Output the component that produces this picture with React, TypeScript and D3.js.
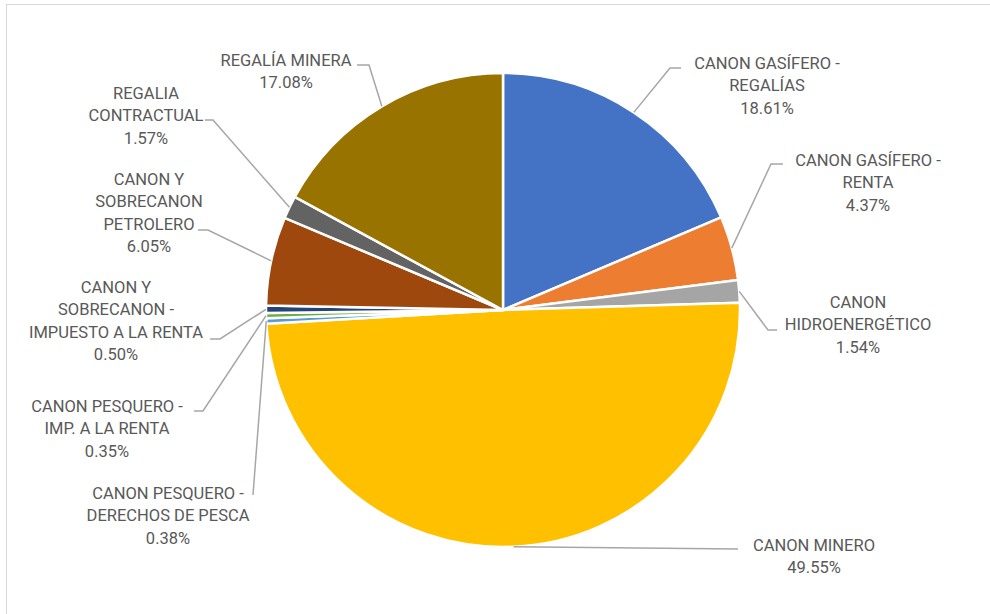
import React from "react";
import * as d3 from "d3";

const categories: string[][] = [
  ["CANON GASÍFERO -", "REGALÍAS"],
  ["CANON GASÍFERO -", "RENTA"],
  ["CANON", "HIDROENERGÉTICO"],
  ["CANON MINERO"],
  ["CANON PESQUERO -", "DERECHOS DE PESCA"],
  ["CANON PESQUERO -", "IMP. A LA RENTA"],
  ["CANON Y", "SOBRECANON -", "IMPUESTO A LA RENTA"],
  ["CANON Y", "SOBRECANON", "PETROLERO"],
  ["REGALIA", "CONTRACTUAL"],
  ["REGALÍA MINERA"],
];
const values: number[] = [18.61, 4.37, 1.54, 49.55, 0.38, 0.35, 0.5, 6.05, 1.57, 17.08];
const colors: string[] = [
  "#4472C4", "#ED7D31", "#A5A5A5", "#FFC000", "#5B9BD5",
  "#70AD47", "#264478", "#9E480E", "#636363", "#997300",
];

// label layout: text block center x, first-line center y, elbow point, end of leader near label
const labelLayout = [
  { lx: 767, ly: 63, ex: 670, ey: 68, hx: 681 },
  { lx: 868, ly: 160, ex: 771, ey: 164, hx: 783 },
  { lx: 858, ly: 302, ex: 768, ey: 330, hx: 777 },
  { lx: 814, ly: 545, ex: 738, ey: 549, hx: 738 },
  { lx: 168, ly: 493, ex: 253, ey: 495, hx: 253 },
  { lx: 107, ly: 406, ex: 203, ey: 411, hx: 194 },
  { lx: 116, ly: 287, ex: 220, ey: 339, hx: 210 },
  { lx: 149, ly: 179, ex: 208, ey: 230, hx: 198 },
  { lx: 146, ly: 93, ex: 213, ey: 120, hx: 205 },
  { lx: 286, ly: 60, ex: 369, ey: 65, hx: 357 },
];

const W = 990;
const H = 614;
const CX = 503;
const CY = 310;
const R = 237;
const LINE_H = 22.6;

export default function App() {
  const pie = d3.pie<number>().sort(null).value((d) => d)(values);
  const arc = d3.arc<d3.PieArcDatum<number>>().innerRadius(0).outerRadius(R);

  return (
    <svg
      width={W}
      height={H}
      style={{ position: "absolute", left: 0, top: 0, background: "#fff" }}
      fontFamily="Roboto, 'Liberation Sans', sans-serif"
    >
      <rect x={6.5} y={4.5} width={1100} height={800} fill="#fff" stroke="#D9D9D9" strokeWidth={1} />
      <g transform={`translate(${CX},${CY})`}>
        {pie.map((d, i) => (
          <path key={i} d={arc(d) || ""} fill={colors[i]} stroke="#fff" strokeWidth={2.5} strokeLinejoin="round" />
        ))}
      </g>
      {pie.map((d, i) => {
        const a = (d.startAngle + d.endAngle) / 2;
        const px = CX + R * Math.sin(a);
        const py = CY - R * Math.cos(a);
        const L = labelLayout[i];
        return (
          <polyline
            key={"l" + i}
            points={`${px},${py} ${L.ex},${L.ey} ${L.hx},${L.ey}`}
            fill="none"
            stroke="#A6A6A6"
            strokeWidth={1.5}
          />
        );
      })}
      {pie.map((d, i) => {
        const L = labelLayout[i];
        const lines = [...categories[i], values[i].toFixed(2) + "%"];
        return (
          <text key={"t" + i} textAnchor="middle" fill="#595959" fontSize={16.5}>
            {lines.map((s, j) => (
              <tspan key={j} x={L.lx} y={L.ly + j * LINE_H} dominantBaseline="central">
                {s}
              </tspan>
            ))}
          </text>
        );
      })}
    </svg>
  );
}
